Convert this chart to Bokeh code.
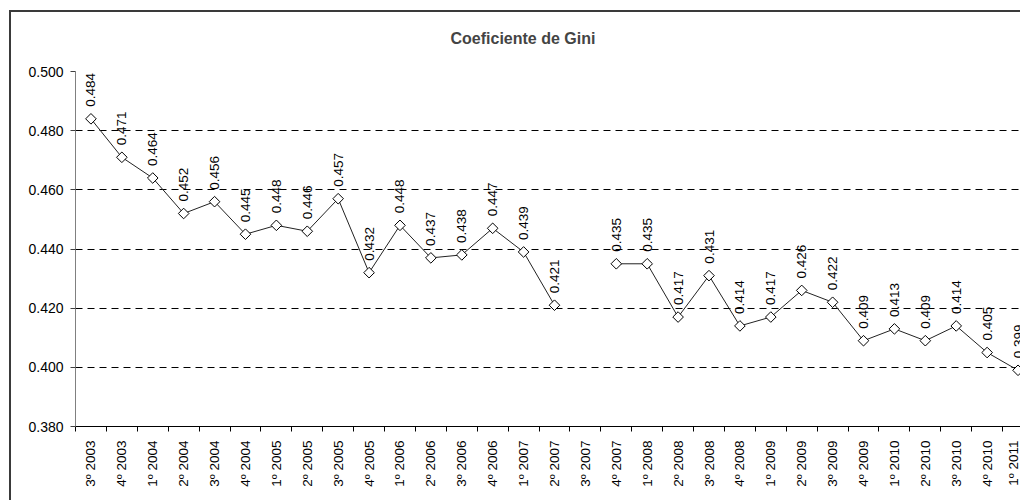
import math
from bokeh.plotting import figure
from bokeh.models import Range1d, FixedTicker, NumeralTickFormatter, ColumnDataSource, InlineStyleSheet
from bokeh.core.properties import value
from bokeh.embed import file_html
from bokeh.resources import INLINE

categories = ["3º 2003", "4º 2003", "1º 2004", "2º 2004", "3º 2004", "4º 2004",
              "1º 2005", "2º 2005", "3º 2005", "4º 2005", "1º 2006", "2º 2006",
              "3º 2006", "4º 2006", "1º 2007", "2º 2007", "3º 2007", "4º 2007",
              "1º 2008", "2º 2008", "3º 2008", "4º 2008", "1º 2009", "2º 2009",
              "3º 2009", "4º 2009", "1º 2010", "2º 2010", "3º 2010", "4º 2010",
              "1º 2011"]
gini = [0.484, 0.471, 0.464, 0.452, 0.456, 0.445, 0.448, 0.446, 0.457, 0.432,
        0.448, 0.437, 0.438, 0.447, 0.439, 0.421, float("nan"), 0.435, 0.435,
        0.417, 0.431, 0.414, 0.417, 0.426, 0.422, 0.409, 0.413, 0.409, 0.414,
        0.405, 0.399]
y_ticks = [0.380, 0.400, 0.420, 0.440, 0.460, 0.480, 0.500]
title_text = "Coeficiente de Gini"

FONT = "Liberation Sans"

xs = list(range(len(categories)))
labels = ["" if math.isnan(v) else f"{v:.3f}" for v in gini]
src = ColumnDataSource(dict(x=xs, y=gini, lab=labels))

p = figure(width=1020, height=500, output_backend="svg", toolbar_location=None,
           x_range=Range1d(-0.5, 30.08), y_range=Range1d(0.38, 0.50),
           min_border_left=75, min_border_right=0, min_border_top=71,
           min_border_bottom=74, background_fill_color="white",
           border_fill_color="white", outline_line_color=None)

# outer chart frame (left and top edges; right/bottom lie outside the picture)
p.stylesheets = [InlineStyleSheet(css=(
    ":host { position: relative; }"
    ":host::after { content: ''; position: absolute; left: 9px; top: 10px; "
    "right: 0; bottom: 0; border-left: 2px solid #3a3a3a; "
    "border-top: 2px solid #3a3a3a; pointer-events: none; z-index: 10; }"))]

p.title.text = title_text
p.title.text_font = FONT
p.title.text_font_size = "16px"
p.title.text_font_style = "bold"
p.title.align = "left"
p.title.offset = 375
p.title.standoff = 50

# y axis
p.yaxis.ticker = FixedTicker(ticks=y_ticks)
p.yaxis.formatter = NumeralTickFormatter(format="0.000")
p.yaxis.axis_line_color = "#808080"
p.yaxis.major_tick_line_color = "#404040"
p.yaxis.major_tick_out = 5
p.yaxis.major_tick_in = 0
p.yaxis.minor_tick_line_color = None
p.yaxis.major_label_text_font = FONT
p.yaxis.major_label_text_font_size = "14px"
p.yaxis.major_label_text_color = "black"
p.yaxis.major_label_standoff = 7

# x axis: labels at centers, ticks at boundaries
p.xaxis.ticker = FixedTicker(ticks=xs, minor_ticks=[i - 0.5 for i in range(len(categories) + 1)])
p.xaxis.major_label_overrides = {i: c for i, c in enumerate(categories)}
p.xaxis.major_tick_line_color = None
p.xaxis.minor_tick_line_color = "black"
p.xaxis.minor_tick_out = 5
p.xaxis.minor_tick_in = 0
p.xaxis.axis_line_color = "black"
p.xaxis.major_label_orientation = math.pi / 2
p.xaxis.major_label_text_font = FONT
p.xaxis.major_label_text_font_size = "13.5px"
p.xaxis.major_label_text_color = "black"
p.xaxis.major_label_standoff = 8

p.xgrid.grid_line_color = None
p.ygrid.ticker = FixedTicker(ticks=y_ticks)
p.ygrid.grid_line_color = "black"
p.ygrid.grid_line_dash = "7 5"
p.ygrid.grid_line_width = 1

p.line("x", "y", source=src, line_color="#222222", line_width=1)
p.scatter("x", "y", source=src, marker="square", size=7.5, angle=math.pi / 4,
          fill_color="white", line_color="black", line_width=1)
p.text("x", "y", text="lab", source=src, angle=math.pi / 2, y_offset=-12,
       text_align="left", text_baseline="middle", text_font=value(FONT),
       text_font_size="13.5px", text_color="black")

open("out.html", "w").write(file_html(p, INLINE))
